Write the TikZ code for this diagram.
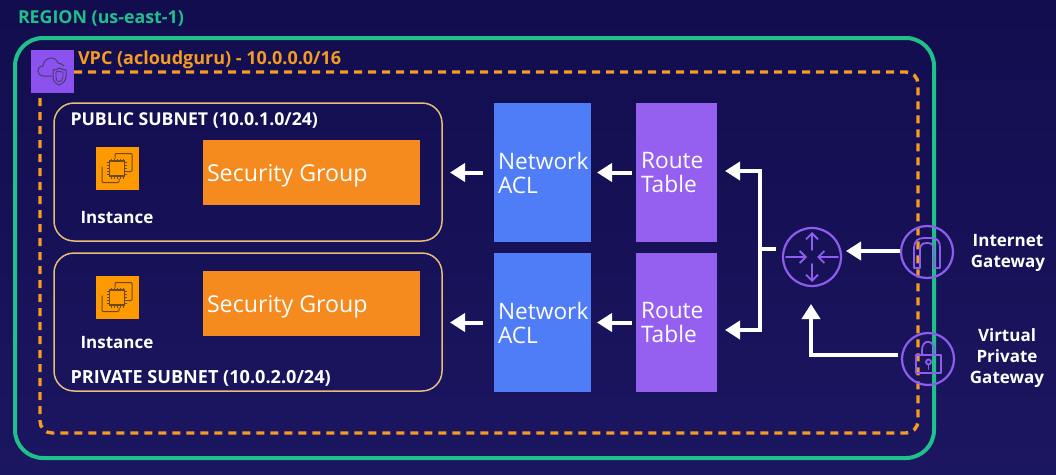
\documentclass[tikz,border=0pt]{standalone}
\usepackage{fontspec}
\setmainfont{Open Sans}
\usetikzlibrary{arrows.meta}
\definecolor{bgtop}{HTML}{120D4E}
\definecolor{bgbot}{HTML}{1B1660}
\definecolor{regiong}{HTML}{1FC08A}
\definecolor{vpco}{HTML}{F59A23}
\definecolor{subnett}{HTML}{E8BC78}
\definecolor{sgo}{HTML}{F58A1F}
\definecolor{insto}{HTML}{FF9900}
\definecolor{aclb}{HTML}{4F7CF7}
\definecolor{rtp}{HTML}{9560F0}
\definecolor{vpcp}{HTML}{8C52F0}
\definecolor{iconp}{HTML}{8F5CF0}
\definecolor{icond}{HTML}{4A3A70}
\definecolor{instd}{HTML}{6B4A20}
\tikzset{
 x=1pt,y=-1pt,
 every node/.style={inner sep=0pt,outer sep=0pt},
 subnetbox/.style={draw=subnett,line width=1.5pt,rounded corners=20pt,minimum width=388pt,minimum height=138pt},
 sgbox/.style={fill=sgo,minimum width=217pt,minimum height=65pt},
 instbox/.style={fill=insto,minimum width=43pt,minimum height=43pt},
 aclbox/.style={fill=aclb,minimum width=97pt,minimum height=139pt},
 rtbox/.style={fill=rtp,minimum width=81pt,minimum height=139pt},
 bigtxt/.style={text=white,font=\fontsize{22.7}{24}\selectfont,align=left,anchor=west},
 sgtxt/.style={text=white,font=\fontsize{23.2}{24}\selectfont,anchor=west},
 lbl/.style={text=white,font=\bfseries\fontsize{17}{21}\selectfont,align=center},
 arr/.style={draw=white,line width=4pt,-{Triangle[length=15pt,width=18pt]}},
 trunk/.style={draw=white,line width=4pt},
 circ/.style={draw=iconp,line width=2.2pt,circle},
 iconline/.style={draw=iconp,line width=1.8pt},
}
\newcommand{\chipicon}[2]{%
 \begin{scope}[shift={(#1,#2)},draw=instd,line width=1pt]
  \draw[rounded corners=1pt] (-2,-10) -- (-2,-15) -- (15,-15) -- (15,3) -- (10,3);
  \draw[rounded corners=1pt] (-15,-2) -- (-15,14) -- (2,14) -- (2,10);
  \draw[line width=1.2pt] (-7.5,-7.5) rectangle (7.5,7.5);
  \foreach \t in {-6,-3,0,3,6}{
   \draw[line width=.7pt] (\t,-10) -- (\t,-7.5) (\t,7.5) -- (\t,10) (-10,\t) -- (-7.5,\t) (7.5,\t) -- (10,\t);
  }
 \end{scope}}
\begin{document}
\begin{tikzpicture}
\useasboundingbox (0,0) rectangle (1056,474);
\shade[top color=bgtop,bottom color=bgbot] (0,0) rectangle (1056,474);
% region + vpc
\draw[regiong,line width=4pt,rounded corners=28pt] (15,38) rectangle (934,458);
\draw[vpco,line width=3.4pt,dash pattern=on 8pt off 6pt,rounded corners=12pt] (40,72) rectangle (918,433);
\node[text=regiong,font=\bfseries\fontsize{17.8}{20}\selectfont,anchor=west] (regionlbl) at (18,18) {REGION (us-east-1)};
\node[text=vpco,font=\bfseries\fontsize{18}{20}\selectfont,anchor=west] (vpclbl) at (78,60) {VPC (acloudguru) - 10.0.0.0/16};
% vpc icon
\node[fill=vpcp,minimum width=43pt,minimum height=43pt] (vpcicon) at (52.5,71.5) {};
\draw[icond,line width=1pt] (52,76) -- (44,76) .. controls (36,76) and (36,66) .. (43,66) .. controls (44,56) and (56,56) .. (58,63) .. controls (61,63) and (63,65) .. (64,66);
\draw[icond,line width=1pt] (53,70) .. controls (56,70) and (58,69) .. (59,68) .. controls (61,69) and (64,70) .. (66,70) -- (66,77) .. controls (66,81) and (62,84) .. (59,85) .. controls (56,84) and (53,81) .. (53,77) -- cycle;
\draw[icond,line width=.8pt] (56,72) .. controls (57,72) and (58,72) .. (59,71) .. controls (60,72) and (62,72) .. (63,72) -- (63,77) .. controls (63,80) and (61,81) .. (59,82) .. controls (57,81) and (56,80) .. (56,77) -- cycle;
% subnets
\node[subnetbox] (sub1) at (248,172) {};
\node[subnetbox] (sub2) at (248,322) {};
\node[lbl,anchor=west,font=\bfseries\fontsize{17.7}{21}\selectfont] (pub) at (70.5,120) {PUBLIC SUBNET (10.0.1.0/24)};
\node[lbl,anchor=west,font=\bfseries\fontsize{18.1}{21}\selectfont] (priv) at (70.5,378) {PRIVATE SUBNET (10.0.2.0/24)};
\node[instbox] (inst1) at (117,168.5) {};
\node[instbox] (inst2) at (117,297.5) {};
\chipicon{117}{168.5}
\chipicon{117}{297.5}
\node[lbl] (inst1l) at (117,218) {Instance};
\node[lbl] (inst2l) at (117,343) {Instance};
\node[sgbox] (sg1) at (311.5,172.5) {};
\node[sgtxt] (sg1t) at (207,176) {Security Group};
\node[sgbox] (sg2) at (311.5,303.5) {};
\node[sgtxt] (sg2t) at (207,307) {Security Group};
% acl / rt
\node[aclbox] (acl1) at (542.5,172.5) {};
\node[aclbox] (acl2) at (542.5,322.5) {};
\node[rtbox] (rt1) at (676.5,172.5) {};
\node[rtbox] (rt2) at (676.5,322.5) {};
\node[bigtxt] (acl1t) at (498,173) {Network\\ACL};
\node[bigtxt] (acl2t) at (498,323) {Network\\ACL};
\node[bigtxt] (rt1t) at (641,173) {Route\\Table};
\node[bigtxt] (rt2t) at (641,323) {Route\\Table};
% router + gateways
\node[circ,minimum size=58pt] (router) at (812,257) {};
\node[circ,minimum size=52pt] (igw) at (927,252) {};
\node[circ,minimum size=52pt] (vpg) at (928,359) {};
\begin{scope}[iconline,line cap=round,line join=round]
 \draw[->,>={Straight Barb[length=6pt,width=12pt]}] (812,250) -- (812,232);
 \draw[->,>={Straight Barb[length=6pt,width=12pt]}] (812,264) -- (812,282);
 \draw[->,>={Straight Barb[length=6pt,width=12pt]}] (786,257) -- (807,257);
 \draw[->,>={Straight Barb[length=6pt,width=12pt]}] (838,257) -- (817,257);
 % igw icon
 \draw (914,268) -- (914,248) .. controls (914,241) and (918,238) .. (924,238) -- (932,238) .. controls (938,238) and (940,242) .. (940,248) -- (940,268) -- (934,268) -- (934,250) .. controls (934,245) and (932,243) .. (927,243) .. controls (922,243) and (920,245) .. (920,250) -- (920,268) -- cycle;
 % vpg icon
 \draw (916,355) rectangle (941,373);
 \draw (922,355) -- (922,350) .. controls (922,339) and (934,339) .. (934,350) -- (934,355);
 \draw (928.5,362) circle (2.5pt);
 \draw (928.5,364.5) -- (928.5,369);
\end{scope}
\node[lbl] (igwl) at (1008,253) {Internet\\Gateway};
\node[lbl] (vpgl) at (1007,358) {Virtual\\Private\\Gateway};
% connectors
\draw[arr,shorten <=11pt,shorten >=8pt] (acl1.west) -- (sub1.east|-acl1.west);
\draw[arr,shorten <=11pt,shorten >=8pt] (acl2.west) -- (sub2.east|-acl2.west);
\draw[arr,shorten <=4pt,shorten >=6pt] (rt1.west) -- (acl1.east);
\draw[arr,shorten <=4pt,shorten >=6pt] (rt2.west) -- (acl2.east);
\coordinate (trtop) at (760,171);
\coordinate (trbot) at (760,330);
\coordinate (trmid) at (760,249);
\coordinate (rt1e) at (rt1.east|-trtop);
\coordinate (rt2e) at (rt2.east|-trbot);
\draw[arr,shorten >=8pt] (trtop) -- (rt1e);
\draw[arr,shorten >=8pt] (trbot) -- (rt2e);
\draw[trunk,line cap=rect] (trtop) -- (trbot);
\coordinate (rtrw) at (776,249);
\draw[trunk] (trmid) -- (rtrw);
\coordinate (igws) at (900,251);
\coordinate (routerE) at (846,251);
\draw[arr] (igws) -- (routerE);
\coordinate (vpgs) at (898,355);
\coordinate (vpgc) at (811,355);
\coordinate (routerS) at (811,304);
\draw[arr,line join=miter] (vpgs) -- (vpgc) -- (routerS);
\end{tikzpicture}
\end{document}
